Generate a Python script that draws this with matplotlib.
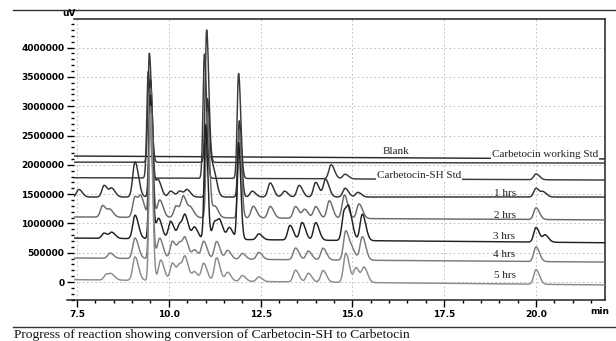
import numpy as np
import matplotlib
matplotlib.use("Agg")
import matplotlib.pyplot as plt
from matplotlib.ticker import MultipleLocator, FixedLocator
from matplotlib.lines import Line2D

# ---------------- data ----------------
trace_names = ["Blank", "Carbetocin working Std", "Carbetocin-SH Std",
               "1 hrs", "2 hrs", "3 hrs", "4 hrs", "5 hrs"]
baseline_start = [2150000, 2045000, 1780000, 1450000, 1110000, 750000, 410000, 40000]
baseline_end = [2100000, 2030000, 1740000, 1450000, 1060000, 670000, 340000, -50000]

# peak retention times (min) and heights (uV above baseline) per trace
blank_t = []
blank_h = []
wstd_t = [9.47, 11.03]
wstd_h = [1860000, 2260000]
shstd_t = [9.44, 10.97, 11.90, 14.42, 14.80, 20.00]
shstd_h = [1820000, 2120000, 1790000, 240000, 80000, 100000]
h1_t = [7.55, 8.24, 8.45, 9.08, 9.50, 9.70, 10.05, 10.30, 10.50, 11.05, 11.20, 11.92,
        12.27, 12.76, 13.15, 13.55, 14.00, 14.27, 14.80, 15.15, 20.00, 20.20]
h1_h = [130000, 200000, 140000, 600000, 2000000, 300000, 100000, 100000, 120000, 1650000,
        500000, 1300000, 100000, 240000, 100000, 200000, 250000, 300000, 150000, 80000,
        150000, 80000]
h2_t = [8.20, 8.40, 9.08, 9.25, 9.50, 9.75, 10.20, 10.40, 10.60, 11.05, 11.25, 11.92,
        12.30, 12.76, 13.45, 13.70, 14.00, 14.37, 14.78, 15.18, 20.00]
h2_h = [200000, 120000, 350000, 300000, 2200000, 300000, 200000, 350000, 150000, 1800000,
        200000, 1500000, 200000, 200000, 200000, 150000, 200000, 300000, 400000, 250000,
        200000]
h3_t = [8.24, 8.45, 9.08, 9.50, 9.72, 10.05, 10.30, 10.45, 10.70, 11.00, 11.25, 11.40,
        11.65, 11.90, 12.45, 13.30, 13.63, 14.00, 14.78, 14.92, 15.27, 20.00, 20.25]
h3_h = [90000, 100000, 400000, 2450000, 350000, 300000, 250000, 350000, 200000, 1950000,
        300000, 250000, 200000, 1650000, 100000, 250000, 300000, 300000, 500000, 400000,
        450000, 250000, 120000]
h4_t = [8.40, 9.08, 9.50, 9.75, 10.10, 10.30, 10.45, 10.70, 10.95, 11.30, 11.60, 12.00,
        12.45, 13.45, 13.80, 14.20, 14.82, 15.00, 15.27, 20.00]
h4_h = [90000, 350000, 2600000, 350000, 300000, 250000, 300000, 150000, 300000, 300000,
        150000, 100000, 120000, 200000, 150000, 200000, 500000, 150000, 400000, 250000]
h5_t = [8.30, 8.45, 9.08, 9.50, 9.78, 10.10, 10.30, 10.45, 10.70, 10.95, 11.30, 11.60,
        12.00, 12.45, 13.45, 13.80, 14.20, 14.82, 15.10, 15.32, 20.00]
h5_h = [100000, 80000, 400000, 2850000, 350000, 300000, 250000, 350000, 150000, 300000,
        400000, 150000, 100000, 80000, 200000, 150000, 200000, 500000, 250000, 250000,
        250000]

peak_times = [blank_t, wstd_t, shstd_t, h1_t, h2_t, h3_t, h4_t, h5_t]
peak_heights = [blank_h, wstd_h, shstd_h, h1_h, h2_h, h3_h, h4_h, h5_h]

y_ticks = [0, 500000, 1000000, 1500000, 2000000, 2500000, 3000000, 3500000, 4000000]
x_ticks = [7.5, 10.0, 12.5, 15.0, 17.5, 20.0]
x_tick_labels = ["7.5", "10.0", "12.5", "15.0", "17.5", "20.0"]

# ---------------- styles ----------------
trace_colors = ["#2a2a2a", "#3a3a3a", "#3a3a3a", "#303030", "#6a6a6a", "#202020", "#7a7a7a", "#8c8c8c"]
label_pos = [(16.20, 2225000), (20.25, 2170000), (16.81, 1809000), (19.16, 1510000),
             (19.16, 1134000), (19.12, 776000), (19.12, 469000), (19.16, 110000)]
label_bg = [True, True, True, False, False, False, False, False]

W, H = 616, 341
fig = plt.figure(figsize=(W / 100, H / 100), dpi=100)
ax = fig.add_axes([74 / W, 1 - 300 / H, (605 - 74) / W, (300 - 19) / H])

t = np.linspace(7.3, 21.9, 4000)
for name, b0, b1, pt, ph, col in zip(trace_names, baseline_start, baseline_end,
                                      peak_times, peak_heights, trace_colors):
    y = np.interp(t, [7.3, 21.9], [b0, b1])
    for t0, h in zip(pt, ph):
        s = 0.045 if h > 1000000 else 0.072
        sig = np.where(t < t0, s * 0.85, s * 1.3)
        y = y + h * np.exp(-0.5 * ((t - t0) / sig) ** 2)
    ax.plot(t, y, color=col, lw=1.05, zorder=3)

for name, (lx, ly), bg in zip(trace_names, label_pos, label_bg):
    kw = dict(ha="center", va="center", fontsize=8, family="Liberation Serif",
              color="#222222", zorder=5)
    if bg:
        kw["bbox"] = dict(facecolor="white", edgecolor="none", pad=0.5)
    ax.text(lx, ly, name, **kw)

ax.set_xlim(7.418, 21.879)
ax.set_ylim(-307000, 4488000)
ax.xaxis.set_major_locator(FixedLocator(x_ticks))
ax.set_xticklabels(x_tick_labels)
ax.xaxis.set_minor_locator(MultipleLocator(0.5))
ax.yaxis.set_major_locator(FixedLocator(y_ticks))
ax.set_yticklabels([str(v) for v in y_ticks])
ax.yaxis.set_minor_locator(MultipleLocator(100000))
ax.grid(True, which="major", color="#b4b4b4", linestyle=(0, (2, 3)), lw=0.6, zorder=0)
ax.tick_params(which="major", direction="out", length=5, width=1, labelsize=6.5, pad=2)
ax.tick_params(which="minor", direction="out", length=2.5, width=1)
for lab in ax.get_xticklabels() + ax.get_yticklabels():
    lab.set_fontweight("bold")
ax.spines["left"].set_visible(False)
for sp in ["top", "right", "bottom"]:
    ax.spines[sp].set_linewidth(1.1)
    ax.spines[sp].set_color("#222222")

fig.text(600 / W, 1 - 311 / H, "min", fontsize=6.5, fontweight="bold", ha="center", va="center")
fig.text(69 / W, 1 - 13 / H, "uV", fontsize=6.5, fontweight="bold", ha="center", va="center")

fig.add_artist(Line2D([13 / W, 1], [1 - 10 / H, 1 - 10 / H], color="#333333", lw=1.0))
fig.add_artist(Line2D([67 / W, 74 / W], [1 - 300 / H, 1 - 300 / H], color="#222222", lw=1.1))
fig.add_artist(Line2D([13 / W, 1], [1 - 327 / H, 1 - 327 / H], color="#333333", lw=1.0))
fig.text(14 / W, 1 - 335 / H, "Progress of reaction showing conversion of Carbetocin-SH to Carbetocin",
         fontsize=9.7, family="Liberation Serif", ha="left", va="center", color="#111111")

fig.savefig("out.png", dpi=100)
